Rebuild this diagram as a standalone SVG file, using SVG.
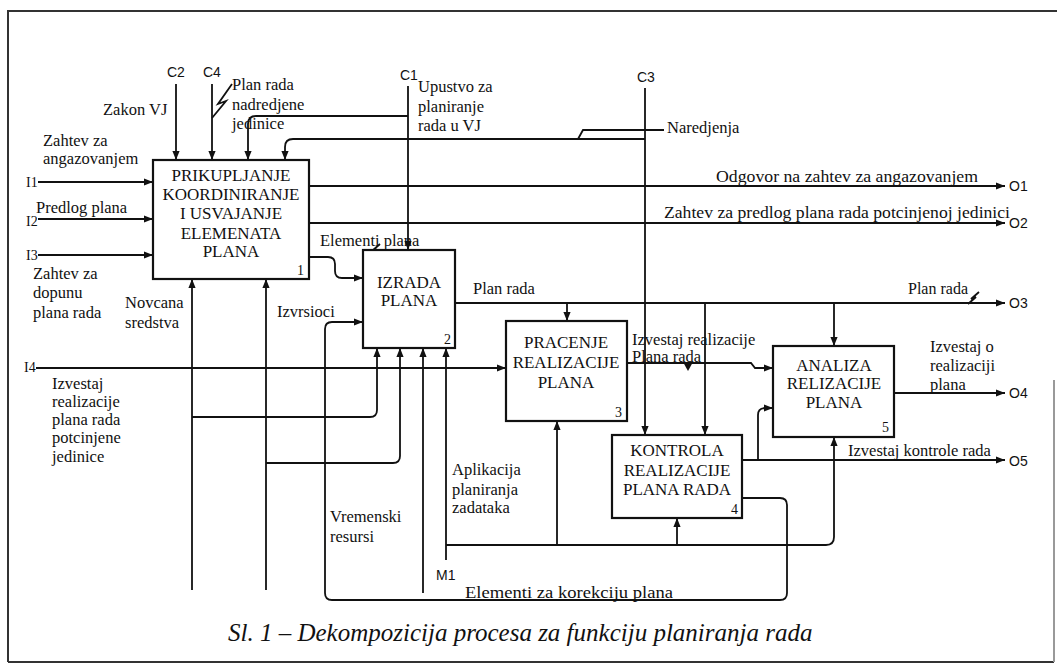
<svg xmlns="http://www.w3.org/2000/svg" width="1057" height="665" viewBox="0 0 1057 665">
<defs>
<marker id="ah" viewBox="0 0 10 10" refX="10" refY="5" markerWidth="9" markerHeight="9" markerUnits="userSpaceOnUse" orient="auto">
<path d="M0,1 L10,5 L0,9 Z" fill="#111"/>
</marker>
<style>
.box{fill:#fff;stroke:#111;stroke-width:2.2}
.bt{font-family:"Liberation Serif",serif;font-size:17px;fill:#111;text-anchor:middle}
.num{font-family:"Liberation Serif",serif;font-size:14px;fill:#111;text-anchor:end}
.lb{font-family:"Liberation Serif",serif;font-size:16.5px;fill:#111}
.cd{font-family:"Liberation Sans",sans-serif;font-size:14px;fill:#111}
.io{font-family:"Liberation Serif",serif;font-size:14px;fill:#111}
.ln{fill:none;stroke:#111;stroke-width:1.8}
.ar{fill:none;stroke:#111;stroke-width:1.8;marker-end:url(#ah)}
.cap{font-family:"Liberation Serif",serif;font-style:italic;font-size:25px;fill:#111}
</style>
</defs>
<rect width="1057" height="665" fill="#fff"/>
<g id="frame" fill="none" stroke="#333" stroke-width="2">
<path d="M8,662 V11 H1057"/>
<path d="M8,662 H1054"/>
<path d="M1054,380 V662" stroke="#999"/>
</g>
<g id="connectors">
<path class="ar" d="M176,84 V160"/>
<path class="ar" d="M212,84 V160"/>
<path class="ar" d="M408,86 V250"/>
<path class="ar" d="M408,116 H256 Q248,116 248,124 V160"/>
<path class="ar" d="M645,139 H293 Q285,139 285,147 V160"/>
<path class="ar" d="M645,88 V435"/>
<path class="ln" d="M212,118 L226,101 L218,104 L232,84"/>
<path class="ln" d="M578,139 L583,130 H664"/>
<path class="ar" d="M38,182 H153"/>
<path class="ar" d="M38,219 H153"/>
<path class="ar" d="M38,255 H153"/>
<path class="ar" d="M36,368 H506"/>
<path class="ar" d="M309,186 H1005"/>
<path class="ar" d="M309,223 H1005"/>
<path class="ar" d="M309,257 H328 Q335,257 335,264 V271 Q335,278 342,278 H363"/>
<path class="ln" d="M368,257 L376,248 L372,251 L380,244"/>
<path class="ar" d="M455,303 H1005"/>
<path class="ar" d="M567,303 V321"/>
<path class="ar" d="M705,303 V435"/>
<path class="ar" d="M834,303 V346"/>
<path class="ln" d="M968,304 L976,297 L971,299 L979,292"/>
<path class="ar" d="M627,363 H751 L755,368 H773"/>
<path d="M683,362 L693,362 L688,371 Z" fill="#111"/>
<path class="ar" d="M742,460 H1005"/>
<path class="ar" d="M758,460 V415 Q758,408 765,408 H773"/>
<path class="ar" d="M742,498 H780 Q787,498 787,505 V593 Q787,600 780,600 H332 Q325,600 325,593 V329 Q325,322 332,322 H363"/>
<path class="ar" d="M894,393 H1005"/>
<path class="ar" d="M192,590 V279"/>
<path class="ar" d="M266,590 V279"/>
<path class="ar" d="M192,417 H370 Q377,417 377,410 V348"/>
<path class="ar" d="M266,463 H393 Q400,463 400,456 V348"/>
<path class="ar" d="M423,593 V348"/>
<path class="ar" d="M446,560 V348"/>
<path class="ar" d="M446,545 H826 Q834,545 834,537 V437"/>
<path class="ar" d="M557,545 V421"/>
<path class="ar" d="M677,545 V518"/>
</g>
<g id="node1">
<rect class="box" x="153" y="160" width="156" height="119"/>
<text class="bt" x="231" y="181">PRIKUPLJANJE</text>
<text class="bt" x="231" y="200">KOORDINIRANJE</text>
<text class="bt" x="231" y="219">I USVAJANJE</text>
<text class="bt" x="231" y="239">ELEMENATA</text>
<text class="bt" x="231" y="257">PLANA</text>
<text class="num" x="304" y="275">1</text>
</g>
<g id="node2">
<rect class="box" x="363" y="250" width="92" height="98"/>
<text class="bt" x="409" y="288">IZRADA</text>
<text class="bt" x="409" y="306">PLANA</text>
<text class="num" x="451" y="344">2</text>
</g>
<g id="node3">
<rect class="box" x="506" y="321" width="121" height="100"/>
<text class="bt" x="566" y="348">PRACENJE</text>
<text class="bt" x="566" y="368">REALIZACIJE</text>
<text class="bt" x="566" y="388">PLANA</text>
<text class="num" x="622" y="417">3</text>
</g>
<g id="node4">
<rect class="box" x="612" y="435" width="130" height="83"/>
<text class="bt" x="677" y="456">KONTROLA</text>
<text class="bt" x="677" y="476">REALIZACIJE</text>
<text class="bt" x="677" y="495">PLANA RADA</text>
<text class="num" x="738" y="514">4</text>
</g>
<g id="node5">
<rect class="box" x="773" y="346" width="121" height="91"/>
<text class="bt" x="834" y="371">ANALIZA</text>
<text class="bt" x="834" y="389">RELIZACIJE</text>
<text class="bt" x="834" y="408">PLANA</text>
<text class="num" x="889" y="432">5</text>
</g>
<g id="labels">
<text class="cd" x="167" y="77">C2</text>
<text class="cd" x="203" y="77">C4</text>
<text class="cd" x="400" y="80">C1</text>
<text class="cd" x="637" y="82">C3</text>
<text class="cd" x="436" y="580">M1</text>
<text class="cd" x="1009" y="191">O1</text>
<text class="cd" x="1009" y="228">O2</text>
<text class="cd" x="1009" y="308">O3</text>
<text class="cd" x="1009" y="398">O4</text>
<text class="cd" x="1009" y="466">O5</text>
<text class="io" x="26" y="187">I1</text>
<text class="io" x="26" y="226">I2</text>
<text class="io" x="26" y="260">I3</text>
<text class="io" x="24" y="372">I4</text>
<text class="lb" x="103" y="115">Zakon VJ</text>
<text class="lb" x="232" y="90">Plan rada</text>
<text class="lb" x="232" y="110">nadredjene</text>
<text class="lb" x="232" y="129">jedinice</text>
<text class="lb" x="418" y="92">Upustvo za</text>
<text class="lb" x="418" y="112">planiranje</text>
<text class="lb" x="418" y="131">rada u VJ</text>
<text class="lb" x="667" y="133">Naredjenja</text>
<text class="lb" x="716" y="182" textLength="262" lengthAdjust="spacingAndGlyphs">Odgovor na zahtev za angazovanjem</text>
<text class="lb" x="664" y="218" textLength="346" lengthAdjust="spacingAndGlyphs">Zahtev za predlog plana rada potcinjenoj jedinici</text>
<text class="lb" x="43" y="146">Zahtev za</text>
<text class="lb" x="43" y="164">angazovanjem</text>
<text class="lb" x="36" y="213">Predlog plana</text>
<text class="lb" x="33" y="279">Zahtev za</text>
<text class="lb" x="33" y="298">dopunu</text>
<text class="lb" x="33" y="318">plana rada</text>
<text class="lb" x="320" y="246">Elementi plana</text>
<text class="lb" x="473" y="294">Plan rada</text>
<text class="lb" x="908" y="294" textLength="60" lengthAdjust="spacingAndGlyphs">Plan rada</text>
<text class="lb" x="125" y="308">Novcana</text>
<text class="lb" x="125" y="328">sredstva</text>
<text class="lb" x="277" y="317">Izvrsioci</text>
<text class="lb" x="52" y="389">Izvestaj</text>
<text class="lb" x="52" y="407">realizacije</text>
<text class="lb" x="52" y="425">plana rada</text>
<text class="lb" x="52" y="443">potcinjene</text>
<text class="lb" x="52" y="462">jedinice</text>
<text class="lb" x="330" y="522">Vremenski</text>
<text class="lb" x="330" y="542">resursi</text>
<text class="lb" x="452" y="475">Aplikacija</text>
<text class="lb" x="452" y="495">planiranja</text>
<text class="lb" x="452" y="513">zadataka</text>
<text class="lb" x="632" y="345">Izvestaj realizacije</text>
<text class="lb" x="632" y="362">Plana rada</text>
<text class="lb" x="930" y="352">Izvestaj o</text>
<text class="lb" x="930" y="371">realizaciji</text>
<text class="lb" x="930" y="390">plana</text>
<text class="lb" x="848" y="456">Izvestaj kontrole rada</text>
<text class="lb" x="465" y="598" textLength="208" lengthAdjust="spacingAndGlyphs">Elementi za korekciju plana</text>
<text class="cap" x="228" y="641">Sl. 1 – Dekompozicija procesa za funkciju planiranja rada</text>
</g>
</svg>
